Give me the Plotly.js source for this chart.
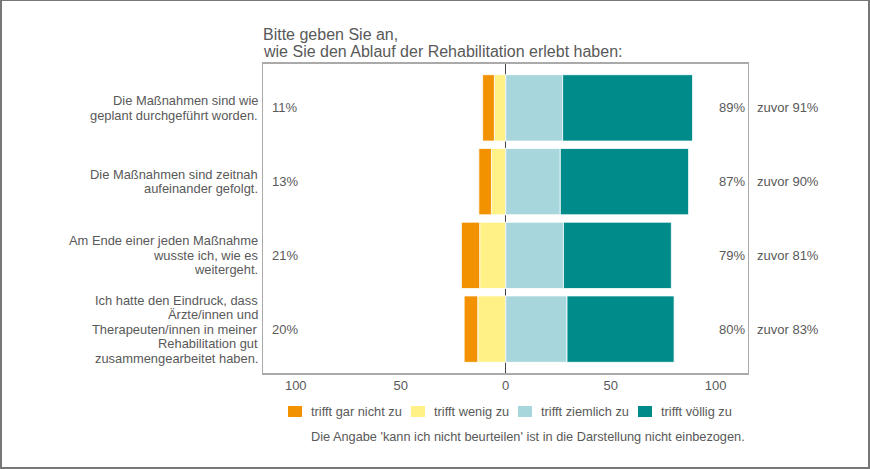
<!DOCTYPE html>
<html><head><meta charset="utf-8">
<script src="https://cdn.plot.ly/plotly-3.0.1.min.js"></script>
<style>
html,body{margin:0;padding:0;background:#fff;}
#wrap{position:relative;width:870px;height:469px;}
#chart{width:870px;height:469px;}
#frame{position:absolute;left:0;top:0;width:870px;height:469px;box-sizing:border-box;border:2px solid #777;border-top-width:1px;pointer-events:none;}
</style></head>
<body>
<div id="wrap"><div id="chart"></div><div id="frame"></div></div>
<script>
// ---- data ----
const categories = [
  "Die Maßnahmen sind wie\ngeplant durchgeführt worden.",
  "Die Maßnahmen sind zeitnah\naufeinander gefolgt.",
  "Am Ende einer jeden Maßnahme\nwusste ich, wie es\nweitergeht.",
  "Ich hatte den Eindruck, dass\nÄrzte/innen und\nTherapeuten/innen in meiner\nRehabilitation gut\nzusammengearbeitet haben."
];
const seriesNames = ["trifft gar nicht zu", "trifft wenig zu", "trifft ziemlich zu", "trifft völlig zu"];
const garNichtZu = [-5.6, -6.0, -8.7, -6.5];
const wenigZu    = [-5.4, -6.8, -12.4, -13.3];
const ziemlichZu = [27.1, 26.0, 27.5, 29.2];
const voelligZu  = [61.9, 61.1, 51.4, 51.0];
const negLabels  = ["11%", "13%", "21%", "20%"];
const posLabels  = ["89%", "87%", "79%", "80%"];
const zuvorLabels = ["zuvor 91%", "zuvor 90%", "zuvor 81%", "zuvor 83%"];
const tickVals = [-100, -50, 0, 50, 100];
const tickText = ["100", "50", "0", "50", "100"];
const titleLines = ["Bitte geben Sie an,", "wie Sie den Ablauf der Rehabilitation erlebt haben:"];
const footnote = "Die Angabe 'kann ich nicht beurteilen' ist in die Darstellung nicht einbezogen.";

const seriesColors = ["#F39200", "#FFF185", "#A7D7DD", "#008B8B"];
const txt = "#595959";
const FONT = "Liberation Sans, Arial, sans-serif";

const W = 870, H = 469, M = {l:263, r:122, t:64, b:96};
const PW = W - M.l - M.r, PH = H - M.t - M.b;
const px2x = px => (px - M.l) / PW;
const px2y = py => (H - M.b - py) / PH;

function bar(i, vals){
  return {type:"bar", orientation:"h", name:seriesNames[i], y:categories, x:vals,
    marker:{color:seriesColors[i], line:{color:"rgba(255,255,255,0.8)", width:1}},
    showlegend:false, hoverinfo:"x+name"};
}
const traces = [bar(1, wenigZu), bar(0, garNichtZu), bar(2, ziemlichZu), bar(3, voelligZu)];

const ann = [], shapes = [];
const LH = 14.5;
categories.forEach((c, ci) => {
  const lines = c.split("\n");
  const n = lines.length;
  lines.forEach((ln, i) => {
    ann.push({xref:"paper", x:0, xanchor:"right", xshift:-3, yref:"y", y:c, yanchor:"middle",
      yshift:((n-1)/2 - i)*LH, text:ln, showarrow:false, font:{size:12.9, color:txt, family:FONT}});
  });
  ann.push({xref:"paper", x:0, xanchor:"left", xshift:7, yref:"y", y:c, text:negLabels[ci],
    showarrow:false, font:{size:13, color:txt, family:FONT}});
  ann.push({xref:"paper", x:1, xanchor:"right", xshift:-1, yref:"y", y:c, text:posLabels[ci],
    showarrow:false, font:{size:13, color:txt, family:FONT}});
  ann.push({xref:"paper", x:1, xanchor:"left", xshift:7, yref:"y", y:c, text:zuvorLabels[ci],
    showarrow:false, font:{size:13, color:txt, family:FONT}});
});
titleLines.forEach((t, i) => {
  ann.push({xref:"paper", x:0, xanchor:"left", xshift:-2, yref:"paper", y:1, yanchor:"bottom",
    yshift:2 + (titleLines.length-1-i)*17, text:t, showarrow:false, font:{size:16, color:txt, family:FONT}});
});
// legend (drawn manually for compact spacing)
const legendSwatchX = [288, 411, 518, 638];
const legendY = 411.5;
seriesNames.forEach((nm, i) => {
  shapes.push({type:"rect", xref:"paper", yref:"paper",
    x0:px2x(legendSwatchX[i]), x1:px2x(legendSwatchX[i] + 14),
    y0:px2y(legendY + 5.5), y1:px2y(legendY - 5.5),
    fillcolor:seriesColors[i], line:{width:0}});
  ann.push({xref:"paper", x:px2x(legendSwatchX[i] + 21), xanchor:"left", yref:"paper", y:px2y(legendY),
    yanchor:"middle", text:nm, showarrow:false, font:{size:12.8, color:txt, family:FONT}});
});
ann.push({xref:"paper", x:px2x(309), xanchor:"left", yref:"paper", y:px2y(436), yanchor:"middle",
  text:footnote, showarrow:false, font:{size:12.75, color:txt, family:FONT}});

const layout = {
  width:W, height:H, margin:M,
  paper_bgcolor:"#fff", plot_bgcolor:"#fff",
  barmode:"relative", bargap:0.1,
  font:{family:FONT, color:txt, size:13},
  xaxis:{range:[-115.6, 115.4], tickvals:tickVals, ticktext:tickText, showgrid:false,
    zeroline:true, zerolinecolor:"#444", zerolinewidth:1, layer:"below traces",
    showline:true, mirror:true, linecolor:"#aaa", linewidth:1.5, ticks:"", fixedrange:true,
    tickfont:{size:13, color:txt}},
  yaxis:{type:"category", categoryorder:"array", categoryarray:categories, range:[3.595, -0.595],
    showticklabels:false, showgrid:false, showline:true, mirror:true, linecolor:"#aaa", linewidth:1, ticks:"", fixedrange:true},
  showlegend:false,
  annotations:ann, shapes:shapes
};
Plotly.newPlot("chart", traces, layout, {displayModeBar:false});
</script>
</body></html>
